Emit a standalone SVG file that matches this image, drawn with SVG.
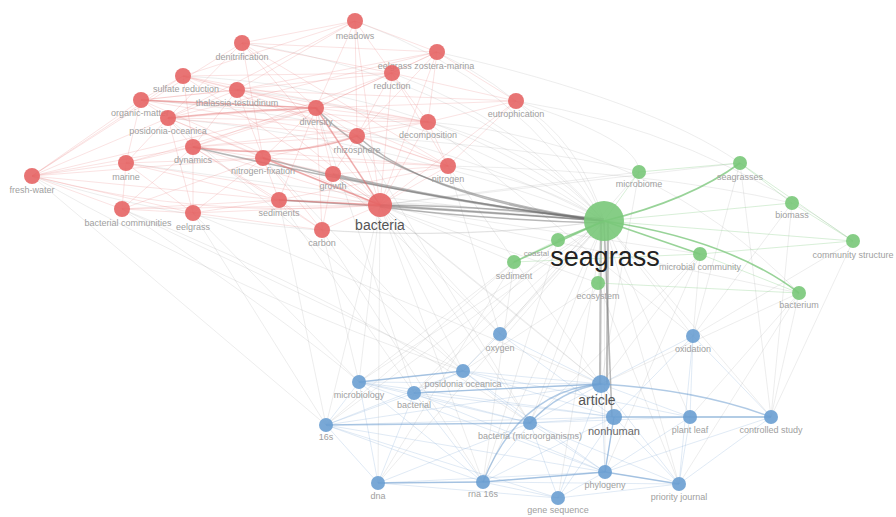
<svg xmlns="http://www.w3.org/2000/svg" width="896" height="517" viewBox="0 0 896 517">
<style>
.bg{fill:#ffffff}
.er{fill:none;stroke:#e88080;stroke-opacity:0.22;stroke-width:1}
.ers{fill:none;stroke:#e06666;stroke-opacity:0.45;stroke-width:1.5}
.eg{fill:none;stroke:#9a9a9a;stroke-opacity:0.18;stroke-width:1}
.egd{fill:none;stroke:#707070;stroke-opacity:0.5;stroke-width:1.5}
.egv{fill:none;stroke:#8a8a8a;stroke-opacity:0.55;stroke-width:2.2}
.egr{fill:none;stroke:#6cc06c;stroke-opacity:0.7;stroke-width:1.6}
.egrf{fill:none;stroke:#8fd08f;stroke-opacity:0.35;stroke-width:1}
.eb{fill:none;stroke:#8fb5dc;stroke-opacity:0.28;stroke-width:1}
.ebs{fill:none;stroke:#6f9fd0;stroke-opacity:0.55;stroke-width:1.4}
.r circle{fill:#e56565;fill-opacity:0.9}
.g circle{fill:#79c879;fill-opacity:0.9}
.b circle{fill:#6a9fd2;fill-opacity:0.9}
text{font-family:"Liberation Sans",Arial,sans-serif;font-size:9px;fill:#a0a0a0;text-anchor:middle}
.big{font-size:27px;fill:#222}
.mid{font-size:14px;fill:#555}
.mid2{font-size:11px;fill:#666}
</style>
<rect class="bg" width="896" height="517"/>
<g id="connectors">
<path class="eg" d="M32,176 Q300,260 604,221"/>
<path class="eg" d="M32,176 Q250,300 463,371"/>
<path class="eg" d="M122,209 Q350,300 530,423"/>
<path class="eg" d="M122,209 Q300,330 359,382"/>
<path class="eg" d="M193,213 Q400,300 601,384"/>
<path class="eg" d="M126,163 Q380,200 604,221"/>
<path class="eg" d="M141,100 Q420,120 604,221"/>
<path class="eg" d="M183,76 Q450,90 604,221"/>
<path class="eg" d="M242,43 Q480,80 604,221"/>
<path class="eg" d="M355,21 Q520,80 604,221"/>
<path class="eg" d="M437,52 Q560,110 604,221"/>
<path class="eg" d="M516,101 Q580,140 604,221"/>
<path class="eg" d="M428,122 Q540,150 604,221"/>
<path class="eg" d="M448,166 Q540,180 604,221"/>
<path class="eg" d="M392,73 Q520,120 604,221"/>
<path class="eg" d="M322,230 Q470,240 604,221"/>
<path class="eg" d="M279,200 Q450,200 604,221"/>
<path class="eg" d="M168,118 Q400,140 604,221"/>
<path class="eg" d="M237,90 Q440,110 604,221"/>
<path class="eg" d="M516,101 Q700,130 853,241"/>
<path class="eg" d="M437,52 Q650,100 740,163"/>
<path class="eg" d="M448,166 Q650,170 792,203"/>
<path class="eg" d="M428,122 Q650,140 799,293"/>
<path class="eg" d="M357,136 Q560,150 639,172"/>
<path class="eg" d="M516,101 Q640,140 639,172"/>
<path class="eg" d="M604,221 L500,334"/>
<path class="eg" d="M604,221 L693,336"/>
<path class="eg" d="M604,221 L359,382"/>
<path class="eg" d="M604,221 L414,393"/>
<path class="eg" d="M604,221 L463,371"/>
<path class="eg" d="M604,221 L326,425"/>
<path class="eg" d="M604,221 L530,423"/>
<path class="eg" d="M604,221 L690,417"/>
<path class="eg" d="M604,221 L771,417"/>
<path class="eg" d="M604,221 L378,483"/>
<path class="eg" d="M604,221 L483,482"/>
<path class="eg" d="M604,221 L558,498"/>
<path class="eg" d="M604,221 L605,472"/>
<path class="eg" d="M604,221 L679,484"/>
<path class="eg" d="M799,293 L601,384"/>
<path class="eg" d="M799,293 L690,417"/>
<path class="eg" d="M799,293 L771,417"/>
<path class="eg" d="M799,293 L679,484"/>
<path class="eg" d="M700,254 L601,384"/>
<path class="eg" d="M700,254 L530,423"/>
<path class="eg" d="M700,254 L605,472"/>
<path class="eg" d="M700,254 L693,336"/>
<path class="eg" d="M740,163 L693,336"/>
<path class="eg" d="M740,163 L771,417"/>
<path class="eg" d="M792,203 L771,417"/>
<path class="eg" d="M792,203 L693,336"/>
<path class="eg" d="M853,241 L771,417"/>
<path class="eg" d="M853,241 L693,336"/>
<path class="eg" d="M639,172 L500,334"/>
<path class="eg" d="M639,172 L601,384"/>
<path class="eg" d="M514,262 L326,425"/>
<path class="eg" d="M514,262 L359,382"/>
<path class="eg" d="M514,262 L483,482"/>
<path class="eg" d="M514,262 L378,483"/>
<path class="eg" d="M558,240 L414,393"/>
<path class="eg" d="M558,240 L483,482"/>
<path class="eg" d="M598,283 L530,423"/>
<path class="eg" d="M598,283 L679,484"/>
<path class="eg" d="M598,283 L463,371"/>
<path class="eg" d="M380,205 L326,425"/>
<path class="eg" d="M380,205 L359,382"/>
<path class="eg" d="M380,205 L378,483"/>
<path class="eg" d="M380,205 L530,423"/>
<path class="eg" d="M380,205 L500,334"/>
<path class="eg" d="M380,205 L463,371"/>
<path class="eg" d="M380,205 L601,384"/>
<path class="eg" d="M380,205 L483,482"/>
<path class="eg" d="M279,200 L326,425"/>
<path class="eg" d="M279,200 L414,393"/>
<path class="eg" d="M322,230 L359,382"/>
<path class="eg" d="M322,230 L483,482"/>
<path class="eg" d="M193,213 L326,425"/>
<path class="eg" d="M193,213 L359,382"/>
<path class="eg" d="M263,158 L463,371"/>
<path class="eg" d="M333,174 L500,334"/>
<path class="eg" d="M448,166 L500,334"/>
<path class="eg" d="M448,166 L601,384"/>
<path class="eg" d="M357,136 L530,423"/>
<path class="eg" d="M316,108 L414,393"/>
<path class="eg" d="M428,122 L693,336"/>
<path class="eg" d="M168,118 L463,371"/>
<path class="eg" d="M122,209 L463,371"/>
<path class="eg" d="M32,176 L326,425"/>
<path class="eg" d="M380,205 L514,262"/>
<path class="eg" d="M380,205 L598,283"/>
<path class="eg" d="M380,205 L700,254"/>
<path class="eg" d="M380,205 L799,293"/>
<path class="eg" d="M380,205 L639,172"/>
<path class="eg" d="M380,205 L740,163"/>
<path class="eg" d="M601,384 Q500,300 380,205"/>
<path class="egd" d="M380,205 Q490,212 604,221"/>
<path class="egd" d="M380,205 Q490,206 604,219"/>
<path class="egd" d="M380,207 Q490,220 604,223"/>
<path class="egd" d="M357,136 Q430,200 604,221"/>
<path class="egd" d="M316,108 Q390,190 604,221"/>
<path class="egd" d="M263,158 Q420,200 604,221"/>
<path class="egd" d="M193,147 Q400,195 604,221"/>
<path class="egd" d="M279,200 Q450,210 604,221"/>
<path class="egd" d="M333,174 Q470,205 604,221"/>
<path class="egv" d="M601,221 L600,384"/>
<path class="egv" d="M608,221 L607,384"/>
<path class="egd" d="M604,221 L612,417"/>
<path class="egr" d="M604,221 Q730,240 799,293"/>
<path class="egr" d="M604,221 Q690,200 740,163"/>
<path class="egr" d="M604,221 L514,262"/>
<path class="egr" d="M604,221 L558,240"/>
<path class="egr" d="M604,221 L700,254"/>
<path class="egrf" d="M604,221 L639,172"/>
<path class="egrf" d="M604,221 L792,203"/>
<path class="egrf" d="M604,221 L853,241"/>
<path class="egrf" d="M604,221 L598,283"/>
<path class="egrf" d="M700,254 L853,241"/>
<path class="egrf" d="M700,254 L799,293"/>
<path class="egrf" d="M740,163 L792,203"/>
<path class="egrf" d="M639,172 L740,163"/>
<path class="egrf" d="M514,262 L558,240"/>
<path class="egrf" d="M514,262 L700,254"/>
<path class="egrf" d="M792,203 L853,241"/>
<path class="egrf" d="M740,163 L853,241"/>
<path class="egrf" d="M598,283 L799,293"/>
<path class="er" d="M32,176 L141,100"/>
<path class="er" d="M32,176 L126,163"/>
<path class="er" d="M32,176 L122,209"/>
<path class="er" d="M32,176 L193,147"/>
<path class="er" d="M32,176 L193,213"/>
<path class="er" d="M32,176 Q150,100 242,43"/>
<path class="er" d="M32,176 L168,118"/>
<path class="er" d="M32,176 L279,200"/>
<path class="er" d="M32,176 L263,158"/>
<path class="er" d="M32,176 Q200,220 380,205"/>
<path class="er" d="M32,176 L183,76"/>
<path class="er" d="M32,176 L316,108"/>
<path class="er" d="M141,100 L183,76"/>
<path class="er" d="M141,100 L168,118"/>
<path class="er" d="M141,100 L316,108"/>
<path class="er" d="M141,100 L357,136"/>
<path class="er" d="M141,100 L428,122"/>
<path class="er" d="M141,100 L237,90"/>
<path class="er" d="M141,100 L126,163"/>
<path class="er" d="M141,100 L380,205"/>
<path class="er" d="M141,100 L392,73"/>
<path class="er" d="M183,76 L316,108"/>
<path class="er" d="M183,76 L392,73"/>
<path class="er" d="M183,76 L355,21"/>
<path class="er" d="M183,76 L237,90"/>
<path class="er" d="M183,76 L380,205"/>
<path class="er" d="M183,76 L193,147"/>
<path class="er" d="M183,76 L448,166"/>
<path class="er" d="M183,76 L428,122"/>
<path class="er" d="M242,43 L355,21"/>
<path class="er" d="M242,43 L392,73"/>
<path class="er" d="M242,43 L316,108"/>
<path class="er" d="M242,43 L437,52"/>
<path class="er" d="M242,43 L263,158"/>
<path class="er" d="M242,43 L380,205"/>
<path class="er" d="M242,43 L448,166"/>
<path class="er" d="M242,43 L168,118"/>
<path class="er" d="M355,21 L316,108"/>
<path class="er" d="M355,21 L392,73"/>
<path class="er" d="M355,21 L357,136"/>
<path class="er" d="M355,21 L237,90"/>
<path class="er" d="M355,21 L168,118"/>
<path class="er" d="M355,21 L380,205"/>
<path class="er" d="M355,21 L437,52"/>
<path class="er" d="M437,52 L392,73"/>
<path class="er" d="M437,52 L316,108"/>
<path class="er" d="M437,52 L428,122"/>
<path class="er" d="M437,52 L357,136"/>
<path class="er" d="M437,52 L516,101"/>
<path class="er" d="M437,52 L380,205"/>
<path class="er" d="M437,52 L237,90"/>
<path class="er" d="M437,52 L168,118"/>
<path class="er" d="M392,73 L316,108"/>
<path class="er" d="M392,73 L448,166"/>
<path class="er" d="M392,73 L380,205"/>
<path class="er" d="M392,73 L193,147"/>
<path class="er" d="M392,73 L428,122"/>
<path class="er" d="M392,73 L516,101"/>
<path class="er" d="M392,73 L357,136"/>
<path class="er" d="M516,101 L316,108"/>
<path class="er" d="M516,101 L428,122"/>
<path class="er" d="M516,101 L380,205"/>
<path class="er" d="M516,101 L237,90"/>
<path class="er" d="M516,101 L448,166"/>
<path class="er" d="M237,90 L316,108"/>
<path class="er" d="M237,90 L168,118"/>
<path class="er" d="M237,90 L193,147"/>
<path class="er" d="M237,90 L380,205"/>
<path class="er" d="M237,90 L263,158"/>
<path class="er" d="M237,90 L357,136"/>
<path class="er" d="M237,90 L428,122"/>
<path class="er" d="M168,118 L316,108"/>
<path class="er" d="M168,118 L193,147"/>
<path class="er" d="M168,118 L380,205"/>
<path class="er" d="M168,118 L126,163"/>
<path class="er" d="M168,118 L428,122"/>
<path class="er" d="M168,118 L263,158"/>
<path class="er" d="M168,118 L193,213"/>
<path class="er" d="M168,118 L357,136"/>
<path class="er" d="M316,108 L357,136"/>
<path class="er" d="M316,108 L380,205"/>
<path class="er" d="M316,108 L428,122"/>
<path class="er" d="M316,108 L448,166"/>
<path class="er" d="M316,108 L263,158"/>
<path class="er" d="M316,108 L333,174"/>
<path class="er" d="M316,108 L322,230"/>
<path class="er" d="M316,108 L279,200"/>
<path class="er" d="M316,108 L193,147"/>
<path class="er" d="M428,122 L380,205"/>
<path class="er" d="M428,122 L357,136"/>
<path class="er" d="M428,122 L448,166"/>
<path class="er" d="M428,122 L193,147"/>
<path class="er" d="M357,136 L380,205"/>
<path class="er" d="M357,136 L263,158"/>
<path class="er" d="M357,136 L448,166"/>
<path class="er" d="M357,136 L193,147"/>
<path class="er" d="M357,136 L333,174"/>
<path class="er" d="M193,147 L263,158"/>
<path class="er" d="M193,147 L126,163"/>
<path class="er" d="M193,147 L380,205"/>
<path class="er" d="M193,147 L279,200"/>
<path class="er" d="M193,147 L193,213"/>
<path class="er" d="M193,147 L122,209"/>
<path class="er" d="M193,147 L448,166"/>
<path class="er" d="M193,147 L322,230"/>
<path class="er" d="M126,163 L263,158"/>
<path class="er" d="M126,163 L122,209"/>
<path class="er" d="M126,163 L193,213"/>
<path class="er" d="M126,163 L380,205"/>
<path class="er" d="M126,163 L279,200"/>
<path class="er" d="M126,163 L316,108"/>
<path class="er" d="M263,158 L380,205"/>
<path class="er" d="M263,158 L279,200"/>
<path class="er" d="M263,158 L333,174"/>
<path class="er" d="M263,158 L448,166"/>
<path class="er" d="M263,158 L193,213"/>
<path class="er" d="M263,158 L322,230"/>
<path class="er" d="M333,174 L380,205"/>
<path class="er" d="M333,174 L322,230"/>
<path class="er" d="M333,174 L448,166"/>
<path class="er" d="M448,166 L380,205"/>
<path class="er" d="M448,166 L279,200"/>
<path class="er" d="M279,200 L380,205"/>
<path class="er" d="M279,200 L322,230"/>
<path class="er" d="M279,200 L193,213"/>
<path class="er" d="M122,209 L193,213"/>
<path class="er" d="M122,209 L380,205"/>
<path class="er" d="M122,209 L279,200"/>
<path class="er" d="M122,209 L263,158"/>
<path class="er" d="M193,213 L380,205"/>
<path class="er" d="M193,213 L322,230"/>
<path class="er" d="M322,230 L380,205"/>
<path class="ers" d="M263,158 L380,205"/>
<path class="ers" d="M316,108 L380,205"/>
<path class="ers" d="M193,147 Q290,160 357,136"/>
<path class="ers" d="M168,118 Q250,110 316,108"/>
<path class="ers" d="M279,200 L380,205"/>
<path class="ers" d="M141,100 L316,108"/>
<path class="eb" d="M326,425 L359,382"/>
<path class="eb" d="M326,425 L414,393"/>
<path class="eb" d="M326,425 L463,371"/>
<path class="eb" d="M326,425 L378,483"/>
<path class="eb" d="M326,425 L483,482"/>
<path class="eb" d="M326,425 L601,384"/>
<path class="eb" d="M326,425 L614,417"/>
<path class="eb" d="M326,425 L605,472"/>
<path class="eb" d="M326,425 L558,498"/>
<path class="eb" d="M359,382 L463,371"/>
<path class="eb" d="M359,382 L414,393"/>
<path class="eb" d="M359,382 L601,384"/>
<path class="eb" d="M359,382 L614,417"/>
<path class="eb" d="M359,382 L530,423"/>
<path class="eb" d="M359,382 L378,483"/>
<path class="eb" d="M359,382 L483,482"/>
<path class="eb" d="M359,382 L605,472"/>
<path class="eb" d="M414,393 L463,371"/>
<path class="eb" d="M414,393 L601,384"/>
<path class="eb" d="M414,393 L614,417"/>
<path class="eb" d="M414,393 L530,423"/>
<path class="eb" d="M414,393 L378,483"/>
<path class="eb" d="M414,393 L483,482"/>
<path class="eb" d="M414,393 L605,472"/>
<path class="eb" d="M463,371 L601,384"/>
<path class="eb" d="M463,371 L614,417"/>
<path class="eb" d="M463,371 L530,423"/>
<path class="eb" d="M463,371 L690,417"/>
<path class="eb" d="M463,371 L605,472"/>
<path class="eb" d="M500,334 L601,384"/>
<path class="eb" d="M500,334 L614,417"/>
<path class="eb" d="M500,334 L463,371"/>
<path class="eb" d="M693,336 L601,384"/>
<path class="eb" d="M693,336 L614,417"/>
<path class="eb" d="M693,336 L690,417"/>
<path class="eb" d="M693,336 L771,417"/>
<path class="eb" d="M693,336 L679,484"/>
<path class="eb" d="M530,423 L601,384"/>
<path class="eb" d="M530,423 L614,417"/>
<path class="eb" d="M530,423 L690,417"/>
<path class="eb" d="M530,423 L483,482"/>
<path class="eb" d="M530,423 L558,498"/>
<path class="eb" d="M530,423 L605,472"/>
<path class="eb" d="M530,423 L679,484"/>
<path class="eb" d="M530,423 L378,483"/>
<path class="eb" d="M601,384 L690,417"/>
<path class="eb" d="M601,384 L679,484"/>
<path class="eb" d="M601,384 L605,472"/>
<path class="eb" d="M601,384 L558,498"/>
<path class="eb" d="M614,417 L771,417"/>
<path class="eb" d="M614,417 L605,472"/>
<path class="eb" d="M614,417 L679,484"/>
<path class="eb" d="M614,417 L558,498"/>
<path class="eb" d="M614,417 L483,482"/>
<path class="eb" d="M690,417 L771,417"/>
<path class="eb" d="M690,417 L679,484"/>
<path class="eb" d="M690,417 L605,472"/>
<path class="eb" d="M771,417 L679,484"/>
<path class="eb" d="M771,417 L605,472"/>
<path class="eb" d="M378,483 L483,482"/>
<path class="eb" d="M378,483 L558,498"/>
<path class="eb" d="M378,483 L605,472"/>
<path class="eb" d="M483,482 L558,498"/>
<path class="eb" d="M483,482 L605,472"/>
<path class="eb" d="M483,482 L679,484"/>
<path class="eb" d="M558,498 L605,472"/>
<path class="eb" d="M558,498 L679,484"/>
<path class="eb" d="M605,472 L679,484"/>
<path class="ebs" d="M483,482 Q520,390 601,384"/>
<path class="ebs" d="M530,423 Q560,390 601,384"/>
<path class="ebs" d="M601,384 Q700,390 771,417"/>
<path class="ebs" d="M614,417 L771,417"/>
<path class="ebs" d="M614,417 L605,472"/>
<path class="ebs" d="M326,425 L530,423"/>
<path class="ebs" d="M378,483 L483,482"/>
<path class="ebs" d="M359,382 L463,371"/>
<path class="ebs" d="M414,393 L601,384"/>
<path class="ebs" d="M483,482 L605,472"/>
<path class="ebs" d="M605,472 L679,484"/>
</g>
<g id="n-meadows" class="r"><circle cx="355" cy="21" r="8"/><text x="355" y="39">meadows</text></g>
<g id="n-denitrification" class="r"><circle cx="242" cy="43" r="8"/><text x="242" y="60">denitrification</text></g>
<g id="n-eelgrass-zostera" class="r"><circle cx="437" cy="52" r="8"/><text x="426" y="69">eelgrass zostera-marina</text></g>
<g id="n-reduction" class="r"><circle cx="392" cy="73" r="8"/><text x="392" y="89">reduction</text></g>
<g id="n-eutrophication" class="r"><circle cx="516" cy="101" r="8"/><text x="516" y="117">eutrophication</text></g>
<g id="n-sulfate-reduction" class="r"><circle cx="183" cy="76" r="8"/><text x="186" y="92">sulfate reduction</text></g>
<g id="n-thalassia" class="r"><circle cx="237" cy="90" r="8"/><text x="237" y="106">thalassia-testudinum</text></g>
<g id="n-organic-matter" class="r"><circle cx="141" cy="100" r="8"/><text x="140" y="116">organic-matter</text></g>
<g id="n-posidonia-oceanica-r" class="r"><circle cx="168" cy="118" r="8"/><text x="168" y="134">posidonia-oceanica</text></g>
<g id="n-diversity" class="r"><circle cx="316" cy="108" r="8"/><text x="316" y="125">diversity</text></g>
<g id="n-decomposition" class="r"><circle cx="428" cy="122" r="8"/><text x="428" y="138">decomposition</text></g>
<g id="n-rhizosphere" class="r"><circle cx="357" cy="136" r="8"/><text x="357" y="153">rhizosphere</text></g>
<g id="n-dynamics" class="r"><circle cx="193" cy="147" r="8"/><text x="193" y="163">dynamics</text></g>
<g id="n-marine" class="r"><circle cx="126" cy="163" r="8"/><text x="126" y="180">marine</text></g>
<g id="n-fresh-water" class="r"><circle cx="32" cy="176" r="8"/><text x="32" y="193">fresh-water</text></g>
<g id="n-nitrogen-fixation" class="r"><circle cx="263" cy="158" r="8"/><text x="263" y="174">nitrogen-fixation</text></g>
<g id="n-growth" class="r"><circle cx="333" cy="174" r="8"/><text x="333" y="189">growth</text></g>
<g id="n-nitrogen" class="r"><circle cx="448" cy="166" r="8"/><text x="448" y="182">nitrogen</text></g>
<g id="n-sediments" class="r"><circle cx="279" cy="200" r="8"/><text x="279" y="216">sediments</text></g>
<g id="n-bacteria" class="r"><circle cx="380" cy="205" r="12"/><text class="mid" x="380" y="230">bacteria</text></g>
<g id="n-bacterial-communities" class="r"><circle cx="122" cy="209" r="8"/><text x="128" y="226">bacterial communities</text></g>
<g id="n-eelgrass" class="r"><circle cx="193" cy="213" r="8"/><text x="193" y="230">eelgrass</text></g>
<g id="n-carbon" class="r"><circle cx="322" cy="230" r="8"/><text x="322" y="246">carbon</text></g>
<g id="n-seagrass" class="g"><circle cx="604" cy="221" r="20"/><text class="big" x="605" y="266">seagrass</text></g>
<g id="n-microbiome" class="g"><circle cx="639" cy="172" r="7"/><text x="639" y="187">microbiome</text></g>
<g id="n-seagrasses" class="g"><circle cx="740" cy="163" r="7"/><text x="740" y="180">seagrasses</text></g>
<g id="n-biomass" class="g"><circle cx="792" cy="203" r="7"/><text x="792" y="218">biomass</text></g>
<g id="n-community-structure" class="g"><circle cx="853" cy="241" r="7"/><text x="853" y="258">community structure</text></g>
<g id="n-microbial-community" class="g"><circle cx="700" cy="254" r="7"/><text x="700" y="270">microbial community</text></g>
<g id="n-coastal" class="g"><circle cx="558" cy="240" r="7"/><text x="549" y="256" style="text-anchor:end;font-size:8px">coastal</text></g>
<g id="n-sediment" class="g"><circle cx="514" cy="262" r="7"/><text x="514" y="279">sediment</text></g>
<g id="n-ecosystem" class="g"><circle cx="598" cy="283" r="7"/><text x="598" y="299">ecosystem</text></g>
<g id="n-bacterium" class="g"><circle cx="799" cy="293" r="7"/><text x="799" y="308">bacterium</text></g>
<g id="n-oxygen" class="b"><circle cx="500" cy="334" r="7"/><text x="500" y="351">oxygen</text></g>
<g id="n-oxidation" class="b"><circle cx="693" cy="336" r="7"/><text x="693" y="352">oxidation</text></g>
<g id="n-microbiology" class="b"><circle cx="359" cy="382" r="7"/><text x="359" y="398">microbiology</text></g>
<g id="n-posidonia-oceanica-b" class="b"><circle cx="463" cy="371" r="7"/><text x="463" y="387">posidonia oceanica</text></g>
<g id="n-bacterial" class="b"><circle cx="414" cy="393" r="7"/><text x="414" y="408">bacterial</text></g>
<g id="n-article" class="b"><circle cx="601" cy="384" r="9"/><text class="mid" x="597" y="405">article</text></g>
<g id="n-nonhuman" class="b"><circle cx="614" cy="417" r="8"/><text class="mid2" x="614" y="435">nonhuman</text></g>
<g id="n-16s" class="b"><circle cx="326" cy="425" r="7"/><text x="326" y="440">16s</text></g>
<g id="n-bacteria-micro" class="b"><circle cx="530" cy="423" r="7"/><text x="530" y="439">bacteria (microorganisms)</text></g>
<g id="n-plant-leaf" class="b"><circle cx="690" cy="417" r="7"/><text x="690" y="433">plant leaf</text></g>
<g id="n-controlled-study" class="b"><circle cx="771" cy="417" r="7"/><text x="771" y="433">controlled study</text></g>
<g id="n-dna" class="b"><circle cx="378" cy="483" r="7"/><text x="378" y="499">dna</text></g>
<g id="n-rna-16s" class="b"><circle cx="483" cy="482" r="7"/><text x="483" y="497">rna 16s</text></g>
<g id="n-gene-sequence" class="b"><circle cx="558" cy="498" r="7"/><text x="558" y="513">gene sequence</text></g>
<g id="n-phylogeny" class="b"><circle cx="605" cy="472" r="7"/><text x="605" y="488">phylogeny</text></g>
<g id="n-priority-journal" class="b"><circle cx="679" cy="484" r="7"/><text x="679" y="500">priority journal</text></g>
</svg>
